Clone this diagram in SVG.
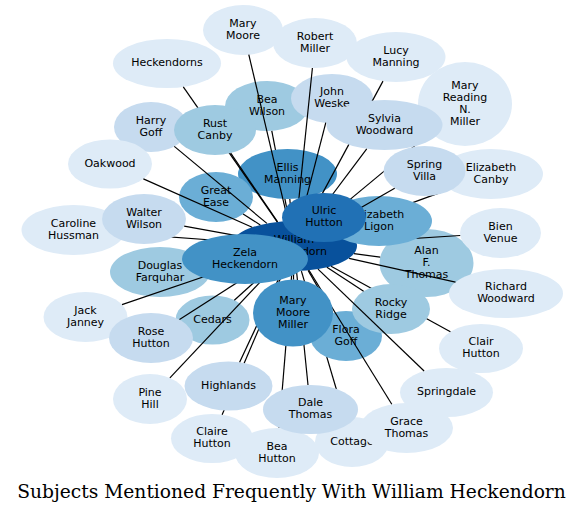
<svg xmlns="http://www.w3.org/2000/svg" width="584" height="514" viewBox="0 0 584 514">
<style>
.node text{font-family:"DejaVu Sans","Liberation Sans",sans-serif;font-size:11px;fill:#000;text-anchor:middle}
.edge path{stroke:#000;stroke-width:1.2;fill:none}
.c1{fill:#deebf7}.c2{fill:#c6dbef}.c3{fill:#9ecae1}.c4{fill:#6baed6}.c5{fill:#4292c6}.c6{fill:#2171b5}.c7{fill:#08519c}
.title{font-family:"DejaVu Serif","Liberation Serif",serif;font-size:18.67px;fill:#000;text-anchor:middle}
</style>
<rect width="584" height="514" fill="#fff"/>
<g id="node-alan-f-thomas" class="node"><ellipse class="c3" cx="426.5" cy="263" rx="47" ry="34"/><text x="426.5" y="253.5">Alan</text><text x="426.5" y="265.5">F.</text><text x="426.5" y="277.5">Thomas</text></g>
<g id="node-william-heckendorn" class="node"><ellipse class="c7" cx="294" cy="246" rx="63" ry="25"/><text x="294" y="242.5">William</text><text x="294" y="254.5">Heckendorn</text></g>
<g class="edge" id="edge-alan-f-thomas"><path d="M380.2,257.1L354,253.7"/></g>
<g id="node-bea-hutton" class="node"><ellipse class="c1" cx="277" cy="453" rx="42" ry="25"/><text x="277" y="449.5">Bea</text><text x="277" y="461.5">Hutton</text></g>
<g class="edge" id="edge-bea-hutton"><path d="M279.1,428L292,271"/></g>
<g id="node-bea-wilson" class="node"><ellipse class="c3" cx="267" cy="106" rx="42" ry="25"/><text x="267" y="102.5">Bea</text><text x="267" y="114.5">Wilson</text></g>
<g class="edge" id="edge-bea-wilson"><path d="M271.8,130.8L289.2,221.1"/></g>
<g id="node-bien-venue" class="node"><ellipse class="c1" cx="500.5" cy="233" rx="40.5" ry="25"/><text x="500.5" y="229.5">Bien</text><text x="500.5" y="241.5">Venue</text></g>
<g class="edge" id="edge-bien-venue"><path d="M460.2,235.5L356.8,242.1"/></g>
<g id="node-caroline-hussman" class="node"><ellipse class="c1" cx="73.5" cy="230" rx="52" ry="25"/><text x="73.5" y="226.5">Caroline</text><text x="73.5" y="238.5">Hussman</text></g>
<g class="edge" id="edge-caroline-hussman"><path d="M124.9,233.7L232,241.5"/></g>
<g id="node-cedars" class="node"><ellipse class="c3" cx="212.5" cy="320" rx="37" ry="24.5"/><text x="212.5" y="322.5">Cedars</text></g>
<g class="edge" id="edge-cedars"><path d="M234.3,300.2L268.8,269.1"/></g>
<g id="node-clair-hutton" class="node"><ellipse class="c1" cx="481" cy="348.5" rx="42" ry="24.5"/><text x="481" y="345">Clair</text><text x="481" y="357">Hutton</text></g>
<g class="edge" id="edge-clair-hutton"><path d="M450.4,331.7L331.1,266.3"/></g>
<g id="node-claire-hutton" class="node"><ellipse class="c1" cx="212" cy="438.5" rx="41" ry="24.5"/><text x="212" y="435">Claire</text><text x="212" y="447">Hutton</text></g>
<g class="edge" id="edge-claire-hutton"><path d="M222.1,414.8L283.5,271.3"/></g>
<g id="node-cottage" class="node"><ellipse class="c1" cx="352" cy="442" rx="37" ry="25"/><text x="352" y="444.5">Cottage</text></g>
<g class="edge" id="edge-cottage"><path d="M344.7,417.5L301.4,271.2"/></g>
<g id="node-dale-thomas" class="node"><ellipse class="c2" cx="310.5" cy="409.5" rx="47.5" ry="24.5"/><text x="310.5" y="406">Dale</text><text x="310.5" y="418">Thomas</text></g>
<g class="edge" id="edge-dale-thomas"><path d="M308,385L296.5,271"/></g>
<g id="node-douglas-farquhar" class="node"><ellipse class="c3" cx="160" cy="272" rx="50" ry="25"/><text x="160" y="268.5">Douglas</text><text x="160" y="280.5">Farquhar</text></g>
<g id="node-elizabeth-canby" class="node"><ellipse class="c1" cx="491" cy="174" rx="52" ry="25"/><text x="491" y="170.5">Elizabeth</text><text x="491" y="182.5">Canby</text></g>
<g class="edge" id="edge-elizabeth-canby"><path d="M449.6,189.1L340.3,229.1"/></g>
<g id="node-elizabeth-ligon" class="node"><ellipse class="c4" cx="379" cy="221" rx="53" ry="25"/><text x="379" y="217.5">Elizabeth</text><text x="379" y="229.5">Ligon</text></g>
<g id="node-ellis-manning" class="node"><ellipse class="c5" cx="287.5" cy="174" rx="49.5" ry="25"/><text x="287.5" y="170.5">Ellis</text><text x="287.5" y="182.5">Manning</text></g>
<g class="edge" id="edge-ellis-manning"><path d="M289.8,199L291.7,221"/></g>
<g id="node-flora-goff" class="node"><ellipse class="c4" cx="346" cy="336" rx="36" ry="25"/><text x="346" y="332.5">Flora</text><text x="346" y="344.5">Goff</text></g>
<g class="edge" id="edge-flora-goff"><path d="M332.6,312.8L308.1,270.4"/></g>
<g id="node-grace-thomas" class="node"><ellipse class="c1" cx="406.5" cy="428" rx="46.5" ry="25"/><text x="406.5" y="424.5">Grace</text><text x="406.5" y="436.5">Thomas</text></g>
<g class="edge" id="edge-grace-thomas"><path d="M391.8,404.3L309,270.3"/></g>
<g id="node-great-ease" class="node"><ellipse class="c4" cx="216" cy="197" rx="37" ry="25"/><text x="216" y="193.5">Great</text><text x="216" y="205.5">Ease</text></g>
<g class="edge" id="edge-great-ease"><path d="M243.1,214L260.3,224.9"/></g>
<g id="node-harry-goff" class="node"><ellipse class="c2" cx="151" cy="127" rx="37" ry="25"/><text x="151" y="123.5">Harry</text><text x="151" y="135.5">Goff</text></g>
<g class="edge" id="edge-harry-goff"><path d="M174.3,146.4L266.9,223.4"/></g>
<g id="node-heckendorns" class="node"><ellipse class="c1" cx="167" cy="63.5" rx="54" ry="24.5"/><text x="167" y="66">Heckendorns</text></g>
<g class="edge" id="edge-heckendorns"><path d="M183.3,86.9L277.2,221.9"/></g>
<g id="node-highlands" class="node"><ellipse class="c2" cx="228.5" cy="386" rx="44" ry="24.5"/><text x="228.5" y="388.5">Highlands</text></g>
<g class="edge" id="edge-highlands"><path d="M239.6,362.3L282.5,270.6"/></g>
<g id="node-jack-janney" class="node"><ellipse class="c1" cx="85.5" cy="317" rx="42" ry="25"/><text x="85.5" y="313.5">Jack</text><text x="85.5" y="325.5">Janney</text></g>
<g class="edge" id="edge-jack-janney"><path d="M122,304.6L246.2,262.3"/></g>
<g id="node-john-weske" class="node"><ellipse class="c2" cx="332" cy="98.5" rx="41" ry="24.5"/><text x="332" y="95">John</text><text x="332" y="107">Weske</text></g>
<g class="edge" id="edge-john-weske"><path d="M325.8,122.7L300.4,221.1"/></g>
<g id="node-lucy-manning" class="node"><ellipse class="c1" cx="396" cy="57" rx="49.5" ry="25"/><text x="396" y="53.5">Lucy</text><text x="396" y="65.5">Manning</text></g>
<g class="edge" id="edge-lucy-manning"><path d="M383,81.1L307.2,221.6"/></g>
<g id="node-mary-moore" class="node"><ellipse class="c1" cx="243" cy="30" rx="40" ry="25"/><text x="243" y="26.5">Mary</text><text x="243" y="38.5">Moore</text></g>
<g class="edge" id="edge-mary-moore"><path d="M248.8,54.7L288.1,221.1"/></g>
<g id="node-mary-moore-miller" class="node"><ellipse class="c5" cx="293" cy="313" rx="40" ry="33.5"/><text x="293" y="303.5">Mary</text><text x="293" y="315.5">Moore</text><text x="293" y="327.5">Miller</text></g>
<g class="edge" id="edge-mary-moore-miller"><path d="M293.5,279.5L293.6,271"/></g>
<g id="node-mary-reading-n-miller" class="node"><ellipse class="c1" cx="465" cy="104" rx="47" ry="42"/><text x="465" y="88.5">Mary</text><text x="465" y="100.5">Reading</text><text x="465" y="112.5">N.</text><text x="465" y="124.5">Miller</text></g>
<g class="edge" id="edge-mary-reading-n-miller"><path d="M430.6,132.6L321.2,223.4"/></g>
<g id="node-oakwood" class="node"><ellipse class="c1" cx="110" cy="164" rx="42" ry="24.5"/><text x="110" y="166.5">Oakwood</text></g>
<g class="edge" id="edge-oakwood"><path d="M143.4,178.9L252.1,227.3"/></g>
<g id="node-pine-hill" class="node"><ellipse class="c1" cx="150" cy="399" rx="37" ry="25"/><text x="150" y="395.5">Pine</text><text x="150" y="407.5">Hill</text></g>
<g class="edge" id="edge-pine-hill"><path d="M169.9,377.9L272,269.4"/></g>
<g id="node-richard-woodward" class="node"><ellipse class="c1" cx="506" cy="293.5" rx="57" ry="24.5"/><text x="506" y="290">Richard</text><text x="506" y="302">Woodward</text></g>
<g class="edge" id="edge-richard-woodward"><path d="M455.5,282.2L349.1,258.3"/></g>
<g id="node-robert-miller" class="node"><ellipse class="c1" cx="315" cy="43" rx="42" ry="25"/><text x="315" y="39.5">Robert</text><text x="315" y="51.5">Miller</text></g>
<g class="edge" id="edge-robert-miller"><path d="M312.4,68L296.6,221"/></g>
<g id="node-rocky-ridge" class="node"><ellipse class="c3" cx="391" cy="309" rx="39" ry="25"/><text x="391" y="305.5">Rocky</text><text x="391" y="317.5">Ridge</text></g>
<g class="edge" id="edge-rocky-ridge"><path d="M363.6,291.2L326.9,267.3"/></g>
<g id="node-rose-hutton" class="node"><ellipse class="c2" cx="151" cy="338" rx="42" ry="25"/><text x="151" y="334.5">Rose</text><text x="151" y="346.5">Hutton</text></g>
<g class="edge" id="edge-rose-hutton"><path d="M179.5,319.6L260.9,267.3"/></g>
<g id="node-rust-canby" class="node"><ellipse class="c3" cx="215" cy="130" rx="41" ry="25"/><text x="215" y="126.5">Rust</text><text x="215" y="138.5">Canby</text></g>
<g class="edge" id="edge-rust-canby"><path d="M230.7,153.1L277.6,221.9"/></g>
<g id="node-spring-villa" class="node"><ellipse class="c2" cx="424.5" cy="171" rx="41" ry="25"/><text x="424.5" y="167.5">Spring</text><text x="424.5" y="179.5">Villa</text></g>
<g class="edge" id="edge-spring-villa"><path d="M394.7,188.2L329.8,225.4"/></g>
<g id="node-springdale" class="node"><ellipse class="c1" cx="446.5" cy="392.5" rx="46.5" ry="24.5"/><text x="446.5" y="395">Springdale</text></g>
<g class="edge" id="edge-springdale"><path d="M424.1,371L318,269.1"/></g>
<g id="node-sylvia-woodward" class="node"><ellipse class="c2" cx="384.5" cy="125" rx="58" ry="25"/><text x="384.5" y="121.5">Sylvia</text><text x="384.5" y="133.5">Woodward</text></g>
<g class="edge" id="edge-sylvia-woodward"><path d="M366.7,148.8L311.9,222"/></g>
<g id="node-ulric-hutton" class="node"><ellipse class="c6" cx="324" cy="217.5" rx="42" ry="24.5"/><text x="324" y="214">Ulric</text><text x="324" y="226">Hutton</text></g>
<g id="node-walter-wilson" class="node"><ellipse class="c2" cx="144" cy="219" rx="42" ry="25"/><text x="144" y="215.5">Walter</text><text x="144" y="227.5">Wilson</text></g>
<g class="edge" id="edge-walter-wilson"><path d="M184.2,226.2L236.6,235.7"/></g>
<g id="node-zela-heckendorn" class="node"><ellipse class="c5" cx="245" cy="259" rx="63" ry="25"/><text x="245" y="255.5">Zela</text><text x="245" y="267.5">Heckendorn</text></g>
<text class="title" x="291.5" y="498">Subjects Mentioned Frequently With William Heckendorn</text>
</svg>
